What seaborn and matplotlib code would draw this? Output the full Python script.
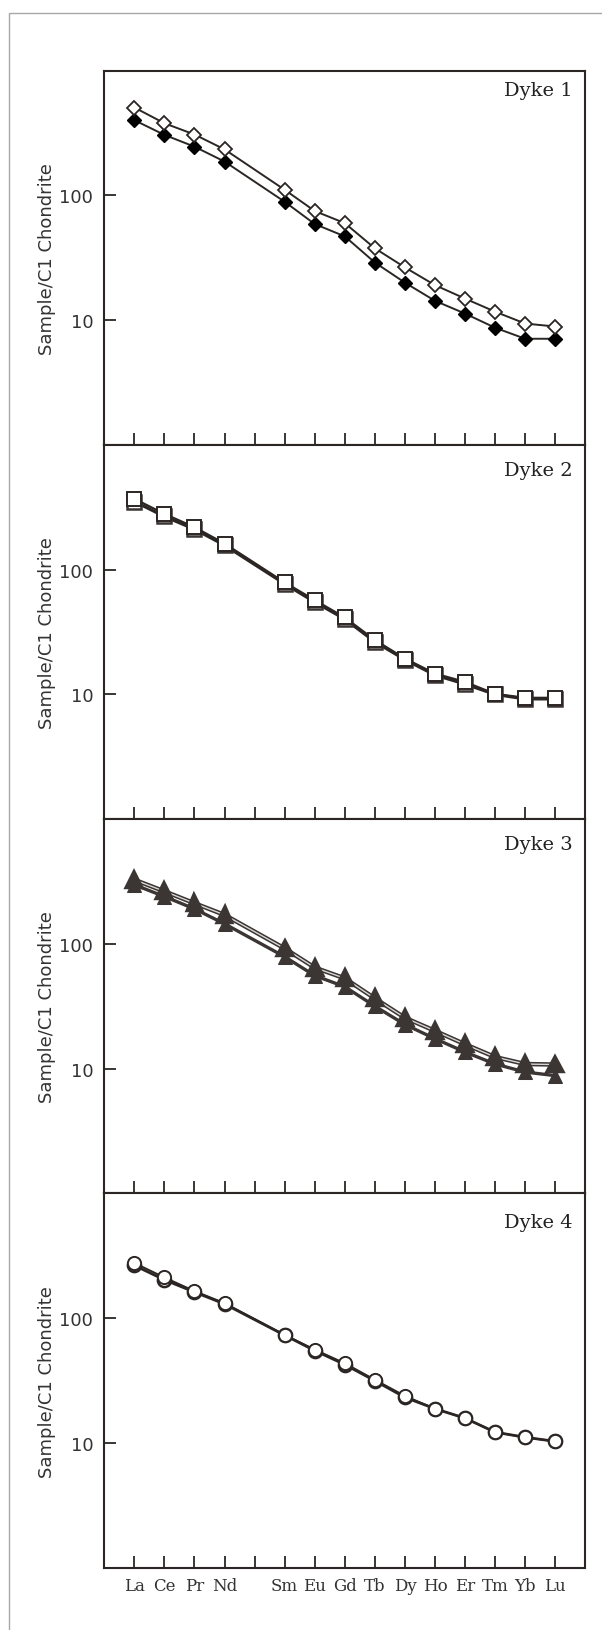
# REE spider diagrams, Dykes 1-4
import numpy as np
import matplotlib
matplotlib.use("Agg")
import matplotlib.pyplot as plt
import matplotlib.patheffects as pe
from matplotlib.ticker import FixedLocator, NullLocator, FixedFormatter
from matplotlib.patches import Rectangle
import seaborn as sns

elements = ["La", "Ce", "Pr", "Nd", "", "Sm", "Eu", "Gd", "Tb", "Dy", "Ho", "Er", "Tm", "Yb", "Lu"]
ree_pos = [1, 2, 3, 4, 6, 7, 8, 9, 10, 11, 12, 13, 14, 15]   # Pm (5) not analysed

dyke1_open = [507, 379, 308, 234, 111, 75, 60, 37.7, 26.5, 19.1, 14.9, 11.7, 9.4, 8.9]
dyke1_filled = [401, 306, 246, 187, 89, 59, 47, 29, 20, 14.3, 11.3, 8.7, 7.1, 7.1]

dyke2_a = [370, 280, 219, 162, 79, 57, 41.4, 27.3, 19.4, 14.7, 12.6, 10.1, 9.4, 9.4]
dyke2_b = [352, 267, 211, 157, 77, 55, 40.2, 26.4, 19.0, 14.3, 12.1, 10.0, 9.2, 9.2]

dyke3_upper = [327, 264, 212, 171, 92, 64.6, 53, 36.6, 25.6, 20.1, 15.7, 12.4, 10.9, 10.8]
dyke3_lower = [298, 240, 191, 145, 79, 55.7, 45.4, 31.7, 22.6, 17.4, 13.6, 10.9, 9.4, 8.8]

dyke4_a = [277, 212, 165, 132, 73.5, 56, 43.5, 32.1, 23.8, 18.8, 15.8, 12.2, 11.1, 10.3]
dyke4_b = [265, 203, 162, 130, 73, 55, 42.5, 31.5, 23.2, 18.8, 15.8, 12.2, 11.1, 10.3]

titles = ["Dyke 1", "Dyke 2", "Dyke 3", "Dyke 4"]
title_drop = [10, 16, 16, 19.5]   # px below top of panel

sns.set_style("white")
plt.rcParams["font.family"] = ["DejaVu Sans"]

ink = "#2b2624"
W, H = 602, 1631
fig = plt.figure(figsize=(W / 100, H / 100), dpi=100)

# grey frame of the page, cut at right and bottom
fig.add_artist(Rectangle((9.3 / W, -0.1), 1.2, 1.1 - 13.7 / H, transform=fig.transFigure,
                         fill=False, edgecolor="#a8a8a8", linewidth=1.0))

left, right = 104.3, 585.3
top, bottom = 71.7, 1568.7
ph = (bottom - top) / 4

axes = []
for i in range(4):
    y0 = H - (top + (i + 1) * ph)
    ax = fig.add_axes([left / W, y0 / H, (right - left) / W, ph / H])
    axes.append(ax)

def style_axis(ax, idx):
    ax.set_yscale("log")
    ax.set_ylim(1, 1000)
    ax.set_xlim(0, 16)
    ax.yaxis.set_major_locator(FixedLocator([10, 100]))
    ax.yaxis.set_major_formatter(FixedFormatter(["10", "100"]))
    ax.yaxis.set_minor_locator(NullLocator())
    ax.set_xticks(range(1, 16))
    ax.tick_params(axis="both", direction="in", length=8.5, width=1.3, color=ink,
                   bottom=True, left=True, top=False, right=False)
    ax.tick_params(axis="y", labelsize=13, pad=8, labelcolor="#333333")
    if idx == 3:
        ax.set_xticklabels(elements, fontsize=12, family="DejaVu Serif", color="#333333")
        ax.tick_params(axis="x", pad=7)
    else:
        ax.set_xticklabels([])
    for s in ax.spines.values():
        s.set_color(ink)
        s.set_linewidth(1.5)
    ax.set_facecolor("white")
    ax.text(1 - 13 / (right - left), 1 - title_drop[idx] / ph, titles[idx], transform=ax.transAxes,
            ha="right", va="top", fontsize=14, family="DejaVu Serif", color="#222222")
    fig.text(47 / W, 1 - (top + (idx + 0.5) * ph) / H, "Sample/C1 Chondrite", rotation=90,
             ha="center", va="center", fontsize=13, color="#333333")

x = np.array(ree_pos)

# Dyke 1
ax = axes[0]
sns.lineplot(x=x, y=dyke1_filled, ax=ax, color=ink, linewidth=1.4, marker="D", markersize=7.5,
             markerfacecolor="black", markeredgecolor="black", markeredgewidth=1)
sns.lineplot(x=x, y=dyke1_open, ax=ax, color=ink, linewidth=1.4, marker="D", markersize=7.5,
             markerfacecolor="white", markeredgecolor=ink, markeredgewidth=1.3)

# Dyke 2
ax = axes[1]
sns.lineplot(x=x, y=dyke2_b, ax=ax, color=ink, linewidth=2.2, marker="s", markersize=10,
             markerfacecolor="white", markeredgecolor="#3a3432", markeredgewidth=1.8)
sns.lineplot(x=x, y=dyke2_a, ax=ax, color=ink, linewidth=1.6, marker="s", markersize=10,
             markerfacecolor="white", markeredgecolor=ink, markeredgewidth=1.4)

# Dyke 3
ax = axes[2]
tri = "#3b3533"
sns.lineplot(x=x, y=dyke3_upper, ax=ax, color="#d8d6d4", linewidth=1.0, marker="^",
             markersize=10, markerfacecolor=tri, markeredgecolor=tri)
ax.lines[-1].set_path_effects([pe.Stroke(linewidth=3.2, foreground=tri), pe.Normal()])
sns.lineplot(x=x, y=dyke3_lower, ax=ax, color=tri, linewidth=2.4, marker="^", markersize=10,
             markerfacecolor=tri, markeredgecolor=tri)

# Dyke 4
ax = axes[3]
sns.lineplot(x=x, y=dyke4_b, ax=ax, color=ink, linewidth=2.0, marker="o", markersize=9.5,
             markerfacecolor="white", markeredgecolor=ink, markeredgewidth=1.8)
sns.lineplot(x=x, y=dyke4_a, ax=ax, color=ink, linewidth=1.4, marker="o", markersize=9.5,
             markerfacecolor="white", markeredgecolor=ink, markeredgewidth=1.4)

for i, ax in enumerate(axes):
    style_axis(ax, i)

fig.savefig("out.png", dpi=100, facecolor="white")
